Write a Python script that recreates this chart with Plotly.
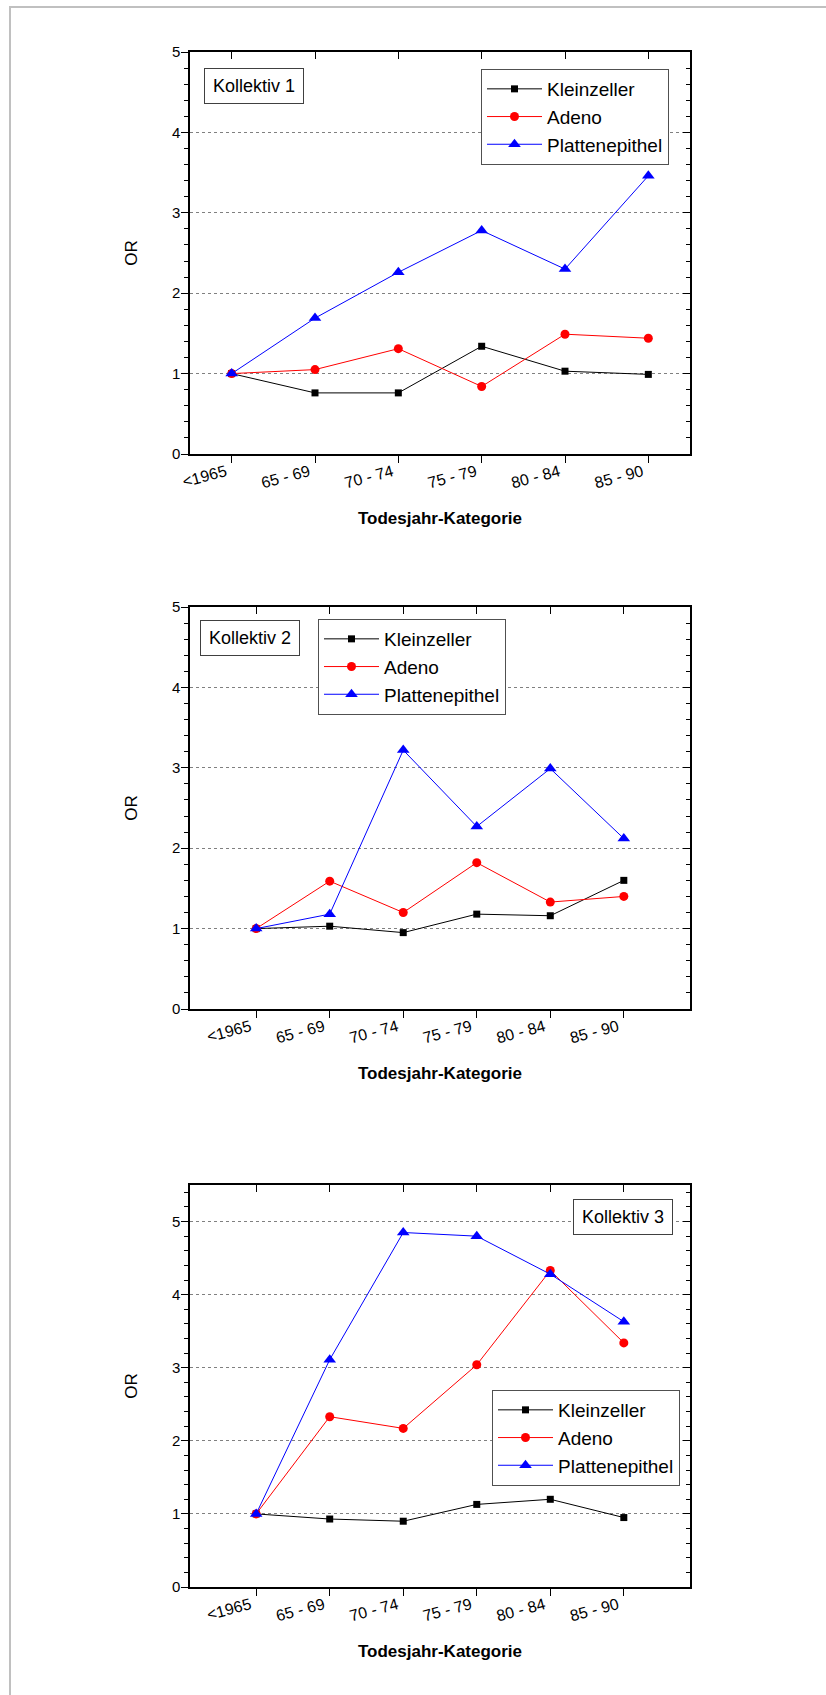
import plotly.graph_objects as go

W, H = 826, 1695

categories = ["<1965", "65 - 69", "70 - 74", "75 - 79", "80 - 84", "85 - 90"]
series_names = ["Kleinzeller", "Adeno", "Plattenepithel"]

# Kollektiv 1
k1_klein = [1.00, 0.76, 0.76, 1.34, 1.03, 0.99]
k1_adeno = [1.00, 1.05, 1.31, 0.84, 1.49, 1.44]
k1_platt = [1.00, 1.69, 2.26, 2.78, 2.30, 3.46]
# Kollektiv 2
k2_klein = [1.00, 1.03, 0.95, 1.18, 1.16, 1.60]
k2_adeno = [1.00, 1.59, 1.20, 1.82, 1.33, 1.40]
k2_platt = [1.00, 1.18, 3.22, 2.27, 2.99, 2.12]
# Kollektiv 3
k3_klein = [1.00, 0.93, 0.90, 1.13, 1.20, 0.95]
k3_adeno = [1.00, 2.33, 2.17, 3.04, 4.33, 3.34]
k3_platt = [1.00, 3.11, 4.85, 4.80, 4.28, 3.63]

panel_labels = ["Kollektiv 1", "Kollektiv 2", "Kollektiv 3"]
y_title = "OR"
x_title = "Todesjahr-Kategorie"

colors = ["#000000", "#ff0000", "#0000ff"]
symbols = ["square", "circle", "triangle-up"]
sizes = [7, 9, 11]

FONT = "Liberation Sans, Arial, sans-serif"

# layout geometry in pixels (left, right, top, bottom)
panels = [
    dict(data=[k1_klein, k1_adeno, k1_platt], box=(190, 690, 52, 454), xr=[-0.5, 5.5], yr=[0, 5],
         legend=(481, 69), label=(254, 85.5)),
    dict(data=[k2_klein, k2_adeno, k2_platt], box=(190, 690, 607, 1009), xr=[-0.9, 5.9], yr=[0, 5],
         legend=(318, 619), label=(250, 637.5)),
    dict(data=[k3_klein, k3_adeno, k3_platt], box=(190, 690, 1185, 1587), xr=[-0.9, 5.9], yr=[0, 5.5],
         legend=(492, 1390), label=(622.5, 1216.5)),
]

def px_x(v):
    return v / W

def px_y(v):
    return 1 - v / H

fig = go.Figure()
layout = dict(width=W, height=H, margin=dict(l=0, r=0, t=0, b=0, autoexpand=False),
              paper_bgcolor="white", plot_bgcolor="white",
              font=dict(family=FONT, color="black"), showlegend=True)
annotations = []

for i, p in enumerate(panels):
    xm = 2 * i + 1
    xo = 2 * i + 2
    xm_name = "x" if xm == 1 else f"x{xm}"
    ym_name = "y" if xm == 1 else f"y{xm}"
    xo_name = f"x{xo}"
    yo_name = f"y{xo}"
    lg_name = "legend" if i == 0 else f"legend{i + 1}"
    l, r, t, b = p["box"]
    xdom = [px_x(l), px_x(r)]
    ydom = [px_y(b), px_y(t)]

    for j, vals in enumerate(p["data"]):
        fig.add_trace(go.Scatter(
            x=categories, y=vals, name=series_names[j], mode="lines+markers",
            line=dict(color=colors[j], width=1),
            marker=dict(symbol=symbols[j], size=sizes[j], color=colors[j]),
            xaxis=xm_name, yaxis=ym_name, legend=lg_name))
    # dummy trace for overlay axes (top / right frame ticks)
    fig.add_trace(go.Scatter(x=[None], y=[None], xaxis=xo_name, yaxis=yo_name,
                             showlegend=False, hoverinfo="skip"))

    layout["xaxis" + ("" if xm == 1 else str(xm))] = dict(
        domain=xdom, anchor=ym_name, type="category", range=p["xr"],
        showline=True, linecolor="black", linewidth=1.5,
        ticks="outside", ticklen=7, tickwidth=1, tickcolor="black",
        tickangle=-15, tickfont=dict(size=16, family=FONT),
        ticklabelstandoff=-6, ticklabelshift=-6, automargin=False,
        showgrid=False, zeroline=False,
        title=dict(text=f"<b>{x_title}</b>", font=dict(size=17, family=FONT), standoff=22))
    layout["yaxis" + ("" if xm == 1 else str(xm))] = dict(
        domain=ydom, anchor=xm_name, range=p["yr"], dtick=1, tick0=0,
        showline=True, linecolor="black", linewidth=1.5,
        ticks="outside", ticklen=7, tickwidth=1, tickcolor="black",
        tickfont=dict(size=15, family=FONT), ticklabelstandoff=-2, automargin=False,
        minor=dict(dtick=0.2, tick0=0, ticks="outside", ticklen=4, tickcolor="black", tickwidth=1, showgrid=False),
        showgrid=True, gridcolor="#808080", griddash="dot", gridwidth=1,
        zeroline=False,
        title=dict(text=y_title, font=dict(size=17, family=FONT), standoff=30))
    layout[f"xaxis{xo}"] = dict(
        overlaying=xm_name, side="top", anchor=yo_name, range=p["xr"],
        tickmode="array", tickvals=list(range(len(categories))), showticklabels=False,
        showline=True, linecolor="black", linewidth=2, automargin=False,
        ticks="inside", ticklen=7, tickwidth=1, tickcolor="black",
        showgrid=False, zeroline=False)
    layout[f"yaxis{xo}"] = dict(
        overlaying=ym_name, side="right", anchor=xo_name, range=p["yr"], dtick=1, tick0=0,
        showticklabels=False, automargin=False,
        showline=True, linecolor="black", linewidth=1.5,
        ticks="inside", ticklen=7, tickwidth=1, tickcolor="black",
        minor=dict(dtick=0.2, tick0=0, ticks="inside", ticklen=4, tickcolor="black", tickwidth=1, showgrid=False),
        showgrid=False, zeroline=False)

    lx, ly = p["legend"]
    layout[lg_name] = dict(
        x=px_x(lx), y=px_y(ly), xanchor="left", yanchor="top", xref="paper", yref="paper",
        bgcolor="white", bordercolor="#505050", borderwidth=1,
        font=dict(size=19, family=FONT), itemwidth=55, tracegroupgap=0)

    ax_, ay_ = p["label"]
    annotations.append(dict(
        text=panel_labels[i], x=px_x(ax_), y=px_y(ay_), xref="paper", yref="paper",
        xanchor="center", yanchor="middle", showarrow=False,
        font=dict(size=18, family=FONT), bgcolor="white",
        bordercolor="#404040", borderwidth=1, borderpad=5, width=88, height=24))

layout["annotations"] = annotations
layout["shapes"] = [dict(type="rect", xref="paper", yref="paper",
                         x0=px_x(10), x1=1.02, y0=-0.02, y1=px_y(7),
                         line=dict(color="#c0c0c0", width=2), layer="below")]
fig.update_layout(**layout)
fig.write_html("out.html")
